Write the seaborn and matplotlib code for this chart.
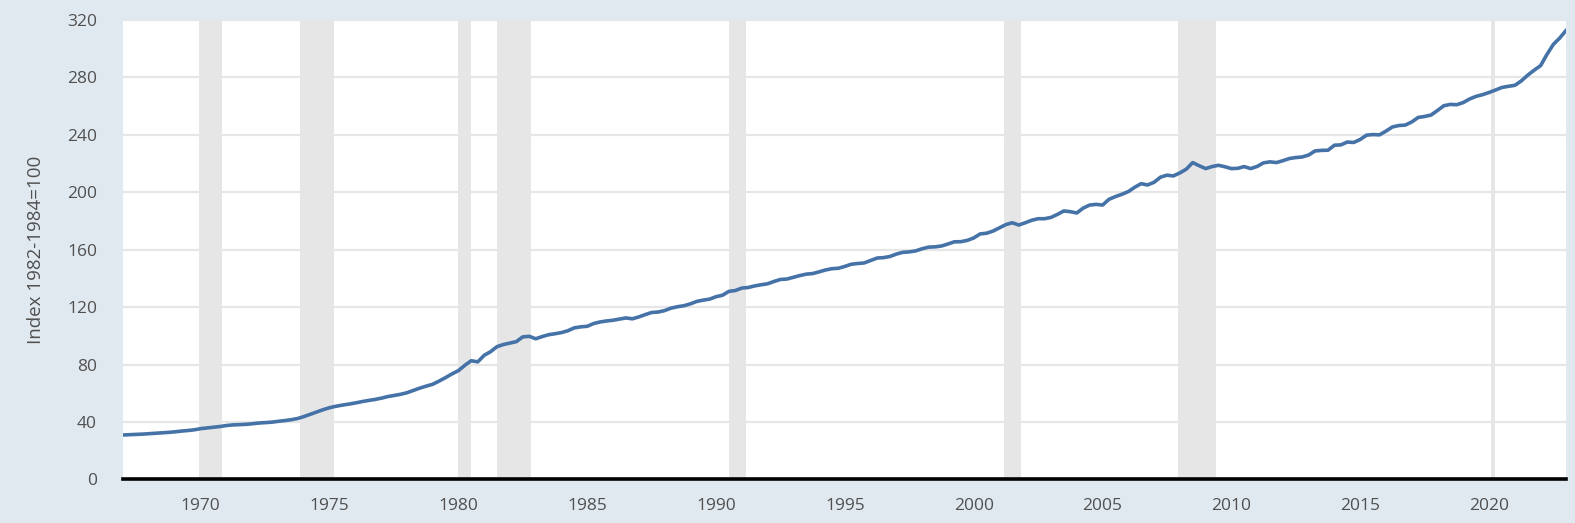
import matplotlib

matplotlib.use("Agg")
import matplotlib.dates as mdates
import matplotlib.pyplot as plt
import pandas as pd
import seaborn as sns

# quarterly index values, 1967 Q1 .. 2023 Q1
values_by_year = {
    1967: [31.0, 31.2, 31.4, 31.6],
    1968: [31.9, 32.2, 32.5, 32.8],
    1969: [33.2, 33.7, 34.1, 34.6],
    1970: [35.4, 35.9, 36.4, 36.9],
    1971: [37.6, 38.0, 38.2, 38.4],
    1972: [38.8, 39.3, 39.6, 39.9],
    1973: [40.5, 41.0, 41.6, 42.4],
    1974: [43.8, 45.4, 47.0, 48.6],
    1975: [50.0, 51.0, 51.8, 52.5],
    1976: [53.3, 54.2, 55.0, 55.7],
    1977: [56.6, 57.7, 58.5, 59.3],
    1978: [60.4, 62.0, 63.6, 65.0],
    1979: [66.3, 68.5, 70.9, 73.5],
    1980: [75.8, 79.5, 82.7, 81.9],
    1981: [86.5, 89.0, 92.5, 94.0],
    1982: [95.0, 96.0, 99.3, 99.7],
    1983: [98.0, 99.5, 100.8, 101.5],
    1984: [102.3, 103.6, 105.6, 106.3],
    1985: [106.7, 108.6, 109.7, 110.4],
    1986: [110.9, 111.7, 112.5, 111.9],
    1987: [113.2, 114.8, 116.3, 116.6],
    1988: [117.6, 119.3, 120.3, 121.0],
    1989: [122.3, 124.0, 124.9, 125.6],
    1990: [127.3, 128.3, 131.0, 131.6],
    1991: [133.3, 133.7, 134.8, 135.6],
    1992: [136.3, 137.9, 139.3, 139.6],
    1993: [140.8, 142.0, 143.0, 143.4],
    1994: [144.6, 145.9, 146.8, 147.1],
    1995: [148.4, 149.9, 150.4, 150.8],
    1996: [152.5, 154.2, 154.5, 155.3],
    1997: [157.0, 158.2, 158.5, 159.2],
    1998: [160.7, 161.8, 162.0, 162.6],
    1999: [164.0, 165.5, 165.6, 166.5],
    2000: [168.2, 171.0, 171.5, 173.0],
    2001: [175.3, 177.5, 178.8, 177.2],
    2002: [178.8, 180.5, 181.6, 181.6],
    2003: [182.5, 184.6, 187.0, 186.5],
    2004: [185.6, 189.0, 191.1, 191.6],
    2005: [191.1, 195.1, 197.0, 198.6],
    2006: [200.5, 203.5, 206.0, 205.1],
    2007: [207.0, 210.5, 211.9, 211.4],
    2008: [213.5, 216.1, 220.7, 218.5],
    2009: [216.5, 217.9, 218.8, 217.8],
    2010: [216.5, 216.7, 217.9, 216.5],
    2011: [218.0, 220.5, 221.2, 220.7],
    2012: [222.0, 223.5, 224.2, 224.6],
    2013: [226.0, 228.8, 229.2, 229.3],
    2014: [232.8, 233.0, 235.0, 234.7],
    2015: [236.8, 239.8, 240.2, 240.0],
    2016: [242.6, 245.5, 246.5, 246.8],
    2017: [249.0, 252.1, 252.8, 253.8],
    2018: [257.0, 260.3, 261.2, 261.0],
    2019: [262.5, 265.0, 266.8, 268.0],
    2020: [269.5, 271.2, 273.0, 273.8],
    2021: [274.5, 277.5, 281.5, 285.0],
    2022: [288.2, 296.0, 303.0, 307.5],
    2023: [313.0],
}

recession_starts = ["1969-12-01", "1973-11-01", "1980-01-01", "1981-07-01",
                    "1990-07-01", "2001-03-01", "2007-12-01", "2020-02-01"]
recession_ends = ["1970-11-01", "1975-03-01", "1980-07-01", "1982-11-01",
                  "1991-03-01", "2001-11-01", "2009-06-01", "2020-04-01"]

y_ticks = [0, 40, 80, 120, 160, 200, 240, 280, 320]
x_tick_years = [1970, 1975, 1980, 1985, 1990, 1995, 2000, 2005, 2010, 2015, 2020]
y_label = "Index 1982-1984=100"

values = [v for year in sorted(values_by_year) for v in values_by_year[year]]
df = pd.DataFrame({
    "date": pd.date_range("1967-01-01", periods=len(values), freq="QS"),
    "value": values,
})

sns.set_theme(style="white")
plt.rcParams["font.family"] = ["Open Sans", "DejaVu Sans"]

bg = "#e1e9f0"
text_color = "#505050"
fig = plt.figure(figsize=(15.75, 5.23), dpi=100, facecolor=bg)
ax = fig.add_axes([0.0784, 0.0832, 0.9161, 0.8786])
ax.set_facecolor("white")

for start, end in zip(recession_starts, recession_ends):
    ax.axvspan(pd.Timestamp(start), pd.Timestamp(end), color="#e6e6e6", lw=0, zorder=0)

for t in y_ticks[1:]:
    ax.axhline(t, color="#e6e6e6", lw=1.6, zorder=0.5)

sns.lineplot(data=df, x="date", y="value", ax=ax, color="#4572a7", linewidth=2.6, zorder=3)

ax.set_xlim(pd.Timestamp("1967-01-01"), pd.Timestamp("2023-01-01"))
ax.set_ylim(0, 320)
ax.set_yticks(y_ticks)
ax.set_xticks([pd.Timestamp(f"{y}-01-01") for y in x_tick_years])
ax.xaxis.set_major_formatter(mdates.DateFormatter("%Y"))

ax.set_xlabel("")
ax.set_ylabel(y_label, fontsize=13.5, color=text_color, labelpad=16)

ax.tick_params(axis="y", length=0, pad=19, labelsize=12.5, labelcolor=text_color)
ax.tick_params(axis="x", length=7, width=1, color="#ccd6eb", pad=6,
               labelsize=12.5, labelcolor=text_color, direction="out")

for side in ["top", "right", "left"]:
    ax.spines[side].set_visible(False)
ax.spines["bottom"].set_color("black")
ax.spines["bottom"].set_linewidth(2.6)
ax.spines["bottom"].set_zorder(4)

fig.savefig("out.png", dpi=100, facecolor=bg)
